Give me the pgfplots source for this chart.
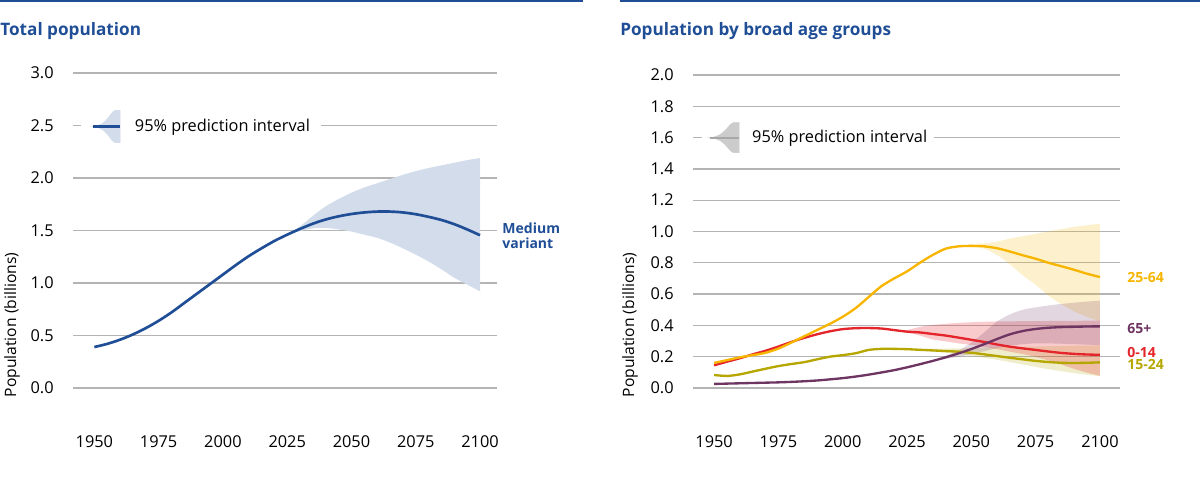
\documentclass[border=0pt]{standalone}
\usepackage{fontspec}
\setmainfont{Open Sans}
\usepackage{pgfplots}
\usepackage{pgfplotstable}
\pgfplotsset{compat=1.18}
\usepgfplotslibrary{fillbetween}

\definecolor{unblue}{HTML}{1F4E96}
\definecolor{bandblue}{HTML}{D2DCEA}
\definecolor{gridgray}{HTML}{B4B4B4}
\definecolor{c2564}{HTML}{F7B500}
\definecolor{c014}{HTML}{E4262C}
\definecolor{c1524}{HTML}{B5A700}
\definecolor{c65}{HTML}{6E3562}
\definecolor{legray}{HTML}{CCCCCC}
\definecolor{legline}{HTML}{A8A8A8}

% Total population, medium variant (billions)
\pgfplotstableread{
year v
1950 0.39
1955 0.42
1960 0.46
1965 0.51
1970 0.57
1975 0.64
1980 0.72
1985 0.81
1990 0.90
1995 0.99
2000 1.08
2005 1.17
2010 1.255
2015 1.33
2020 1.40
2025 1.46
2030 1.515
2035 1.565
2040 1.605
2045 1.635
2050 1.657
2055 1.672
2060 1.68
2065 1.68
2070 1.672
2075 1.655
2080 1.63
2085 1.60
2090 1.56
2095 1.51
2100 1.455
}\mvL

% Total population, 95% interval
\pgfplotstableread{
year lo hi
2022 1.425 1.425
2025 1.455 1.465
2030 1.495 1.54
2035 1.52 1.64
2040 1.525 1.73
2045 1.51 1.80
2050 1.49 1.86
2055 1.46 1.91
2060 1.43 1.95
2065 1.385 1.99
2070 1.33 2.03
2075 1.27 2.065
2080 1.205 2.095
2085 1.13 2.12
2090 1.05 2.145
2095 0.985 2.17
2100 0.92 2.19
}\bandL

% Age groups, medium variant
\pgfplotstableread{
year a2564 a014 a1524 a65
1950 0.160 0.145 0.083 0.026
1955 0.178 0.168 0.077 0.028
1960 0.196 0.190 0.087 0.030
1965 0.210 0.215 0.105 0.032
1970 0.225 0.238 0.123 0.034
1975 0.252 0.265 0.140 0.036
1980 0.290 0.294 0.153 0.039
1985 0.330 0.320 0.165 0.043
1990 0.370 0.343 0.183 0.048
1995 0.410 0.362 0.200 0.055
2000 0.455 0.376 0.210 0.063
2005 0.510 0.382 0.222 0.073
2010 0.580 0.383 0.243 0.085
2015 0.650 0.380 0.250 0.099
2020 0.700 0.370 0.250 0.114
2025 0.745 0.360 0.248 0.132
2030 0.800 0.355 0.244 0.152
2035 0.850 0.345 0.240 0.173
2040 0.890 0.335 0.236 0.196
2045 0.905 0.322 0.232 0.221
2050 0.908 0.308 0.225 0.249
2055 0.905 0.294 0.215 0.280
2060 0.893 0.278 0.204 0.313
2065 0.872 0.264 0.193 0.343
2070 0.848 0.253 0.183 0.364
2075 0.826 0.243 0.173 0.377
2080 0.800 0.233 0.166 0.385
2085 0.778 0.224 0.161 0.389
2090 0.755 0.218 0.160 0.391
2095 0.730 0.214 0.161 0.393
2100 0.709 0.212 0.164 0.394
}\ages

% 25-64 interval
\pgfplotstableread{
year lo hi
2040 0.890 0.890
2045 0.903 0.907
2050 0.900 0.915
2055 0.890 0.925
2060 0.850 0.935
2065 0.790 0.955
2070 0.720 0.970
2075 0.660 0.985
2080 0.590 1.000
2085 0.535 1.015
2090 0.490 1.030
2095 0.455 1.040
2100 0.426 1.050
}\bandA

% 0-14 interval
\pgfplotstableread{
year lo hi
2022 0.365 0.365
2025 0.355 0.370
2030 0.335 0.390
2035 0.310 0.403
2040 0.298 0.410
2045 0.285 0.416
2050 0.275 0.420
2055 0.262 0.423
2060 0.248 0.425
2065 0.232 0.426
2070 0.217 0.427
2075 0.198 0.428
2080 0.176 0.428
2085 0.150 0.429
2090 0.122 0.429
2095 0.098 0.430
2100 0.078 0.430
}\bandB

% 15-24 interval
\pgfplotstableread{
year lo hi
2022 0.249 0.249
2030 0.240 0.250
2040 0.225 0.252
2050 0.205 0.255
2060 0.180 0.260
2070 0.150 0.263
2080 0.120 0.267
2090 0.095 0.270
2100 0.075 0.272
}\bandC

% 65+ interval
\pgfplotstableread{
year lo hi
2035 0.173 0.173
2040 0.185 0.205
2045 0.200 0.240
2050 0.215 0.290
2055 0.235 0.355
2060 0.255 0.425
2065 0.270 0.470
2070 0.280 0.500
2075 0.285 0.515
2080 0.285 0.527
2085 0.283 0.537
2090 0.280 0.545
2095 0.277 0.552
2100 0.274 0.558
}\bandD

\pgfplotsset{
  unstyle/.style={
    scale only axis, anchor=south west,
    axis line style={draw=none}, major tick length=0pt,
    ymajorgrids, grid style={gridgray, line width=0.8pt},
    clip=false,
    tick label style={font=\fontsize{9.8}{11}\selectfont, /pgf/number format/assume math mode=true},
    xticklabel style={/pgf/number format/1000 sep={}, anchor=north, inner sep=0pt, yshift=-28.4pt},
    yticklabel style={/pgf/number format/.cd, fixed, fixed zerofill, precision=1, /tikz/.cd, anchor=east, inner sep=0pt, xshift=-11.4pt},
    ylabel={Population (billions)},
    label style={font=\fontsize{9.4}{11}\selectfont},
    legend cell align=left,
  }
}

\begin{document}
\begin{tikzpicture}

% ---------------- Left panel ----------------
\begin{axis}[unstyle,
  at={(43.8pt,55.2pt)},
  width=254.4pt, height=189pt,
  xmin=1941.7, xmax=2106.6, ymin=0, ymax=3,
  xtick={1950,1975,...,2100}, ytick={0,0.5,...,3},
  ylabel style={at={(axis description cs:-0.144,0.2)}, anchor=center},
  legend style={at={(axis cs:1944.6,2.49)}, anchor=west, fill=white, draw=none,
    inner xsep=6.6pt, inner ysep=1pt, font=\fontsize{9.8}{11}\selectfont,
    nodes={inner sep=0pt},
    /tikz/every odd column/.append style={column sep=8.2pt}},
]
\addlegendimage{legend image code/.code={
  \fill[bandblue] (0pt,0pt) .. controls (9pt,0.5pt) and (10.5pt,9.6pt) .. (13.5pt,9.6pt) -- (16.2pt,9.6pt) -- (16.2pt,-9.6pt) -- (13.5pt,-9.6pt) .. controls (10.5pt,-9.6pt) and (9pt,-0.5pt) .. cycle;
  \draw[unblue, line width=1.5pt] (0pt,0pt) -- (16.2pt,0pt);
}}
\addlegendentry{95\% prediction interval}

\addplot[draw=none, name path=LH, smooth, forget plot] table[x=year,y=hi]{\bandL};
\addplot[draw=none, name path=LL, smooth, forget plot] table[x=year,y=lo]{\bandL};
\addplot[fill=bandblue, draw=none, forget plot] fill between[of=LH and LL];
\addplot[unblue, line width=1.6pt, smooth, forget plot] table[x=year,y=v]{\mvL};

\node[anchor=west, align=left, inner sep=0pt, text=unblue,
  font=\bfseries\fontsize{8.4}{8.6}\selectfont] at (axis cs:2108.6,1.45) {Medium\\variant};
\end{axis}

% ---------------- Right panel ----------------
\begin{axis}[unstyle,
  at={(415.8pt,55.2pt)},
  width=256.2pt, height=187.8pt,
  xmin=1941.8, xmax=2107.8, ymin=0, ymax=2,
  xtick={1950,1975,...,2100}, ytick={0,0.2,...,2.01},
  ylabel style={at={(axis description cs:-0.1475,0.201)}, anchor=center},
  legend style={at={(axis cs:1945.3,1.6)}, anchor=west, fill=white, draw=none,
    inner xsep=4pt, inner ysep=1pt, font=\fontsize{9.8}{11}\selectfont,
    nodes={inner sep=0pt},
    /tikz/every odd column/.append style={column sep=7.2pt}},
]
\addlegendimage{legend image code/.code={
  \fill[legray] (0pt,0pt) .. controls (9.5pt,0.5pt) and (11pt,9pt) .. (14.5pt,9pt) -- (17.4pt,9pt) -- (17.4pt,-9pt) -- (14.5pt,-9pt) .. controls (11pt,-9pt) and (9.5pt,-0.5pt) .. cycle;
  \draw[legline, line width=1.3pt] (0pt,0pt) -- (17.4pt,0pt);
}}
\addlegendentry{95\% prediction interval}

\addplot[draw=none, name path=AH, smooth, forget plot] table[x=year,y=hi]{\bandA};
\addplot[draw=none, name path=AL, smooth, forget plot] table[x=year,y=lo]{\bandA};
\addplot[fill=c2564, fill opacity=0.2, draw=none, forget plot] fill between[of=AH and AL];

\addplot[draw=none, name path=CH, smooth, forget plot] table[x=year,y=hi]{\bandC};
\addplot[draw=none, name path=CL, smooth, forget plot] table[x=year,y=lo]{\bandC};
\addplot[fill=c1524, fill opacity=0.2, draw=none, forget plot] fill between[of=CH and CL];

\addplot[draw=none, name path=BH, smooth, forget plot] table[x=year,y=hi]{\bandB};
\addplot[draw=none, name path=BL, smooth, forget plot] table[x=year,y=lo]{\bandB};
\addplot[fill=c014, fill opacity=0.24, draw=none, forget plot] fill between[of=BH and BL];

\addplot[draw=none, name path=DH, smooth, forget plot] table[x=year,y=hi]{\bandD};
\addplot[draw=none, name path=DL, smooth, forget plot] table[x=year,y=lo]{\bandD};
\addplot[fill=c65, fill opacity=0.2, draw=none, forget plot] fill between[of=DH and DL];

\addplot[c014, line width=1.4pt, smooth, forget plot] table[x=year,y=a014]{\ages};
\addplot[c1524, line width=1.4pt, smooth, forget plot] table[x=year,y=a1524]{\ages};
\addplot[c2564, line width=1.4pt, smooth, forget plot] table[x=year,y=a2564]{\ages};
\addplot[c65, line width=1.4pt, smooth, forget plot] table[x=year,y=a65]{\ages};

\node[anchor=west, inner sep=0pt, text=c2564, font=\bfseries\fontsize{8.4}{10}\selectfont] at (axis cs:2110.5,0.703) {25-64};
\node[anchor=west, inner sep=0pt, text=c65, font=\bfseries\fontsize{8.4}{10}\selectfont] at (axis cs:2110.5,0.383) {65+};
\node[anchor=west, inner sep=0pt, text=c014, font=\bfseries\fontsize{8.4}{10}\selectfont] at (axis cs:2110.5,0.224) {0-14};
\node[anchor=west, inner sep=0pt, text=c1524, font=\bfseries\fontsize{8.4}{10}\selectfont] at (axis cs:2110.5,0.147) {15-24};
\end{axis}

% Titles and top rules
\draw[unblue, line width=1.2pt] (0pt,287.4pt) -- (349.8pt,287.4pt);
\draw[unblue, line width=1.2pt] (372pt,287.4pt) -- (720pt,287.4pt);
\node[anchor=base west, inner sep=0pt, text=unblue, font=\bfseries\fontsize{10.3}{12}\selectfont] at (0pt,266.6pt) {Total population};
\node[anchor=base west, inner sep=0pt, text=unblue, font=\bfseries\fontsize{10.3}{12}\selectfont] at (372pt,266.6pt) {Population by broad age groups};

\pgfresetboundingbox
\path[use as bounding box] (0,0) rectangle (720pt,288pt);
\end{tikzpicture}
\end{document}
